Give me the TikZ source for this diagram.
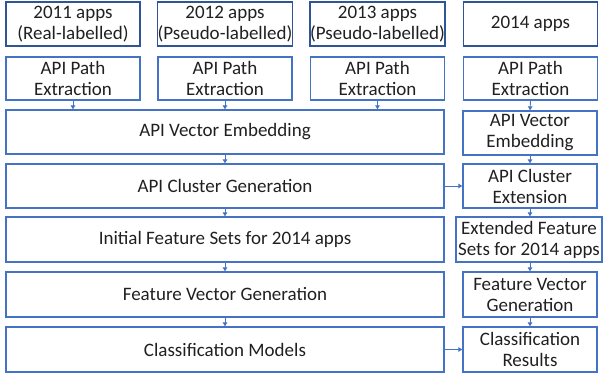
\documentclass[tikz,border=0pt]{standalone}
\usepackage{fontspec}
\setmainfont{Carlito}
\usetikzlibrary{arrows.meta}
\definecolor{boxblue}{HTML}{4472C4}
\definecolor{topblue}{HTML}{2F5597}
\definecolor{txtgray}{HTML}{202020}
\begin{document}
\begin{tikzpicture}[x=1pt,y=-1pt,font=\fontsize{19}{21}\selectfont,
	stage/.style={draw=boxblue,line width=1.3pt,text=txtgray,align=center,inner sep=0pt,minimum height=44pt},
	appbox/.style={stage,draw=topblue},
	narrow/.style={minimum width=134pt},
	wide/.style={minimum width=438pt},
	flow/.style={draw=boxblue,line width=0.9pt,-{Triangle[length=4pt,width=4.5pt]}}]
	\useasboundingbox (0,0) rectangle (603,377);
	% app sets
	\node[appbox,narrow] (apps11) at (73,24) {2011 apps\\(Real-labelled)};
	\node[appbox,narrow] (apps12) at (225,24) {2012 apps\\(Pseudo-labelled)};
	\node[appbox,narrow] (apps13) at (377.5,24) {2013 apps\\(Pseudo-labelled)};
	\node[appbox,narrow] (apps14) at (530.5,24) {2014 apps};
	% path extraction
	\node[stage,narrow,minimum height=43pt] (path11) at (73,78.5) {API Path\\Extraction};
	\node[stage,narrow,minimum height=43pt] (path12) at (225,78.5) {API Path\\Extraction};
	\node[stage,narrow,minimum height=43pt] (path13) at (377.5,78.5) {API Path\\Extraction};
	\node[stage,narrow,minimum height=43pt] (path14) at (530.5,78.5) {API Path\\Extraction};
	% training side
	\node[stage,wide] (embed) at (225,132) {API Vector Embedding};
	\node[stage,wide] (cluster) at (225,186) {API Cluster Generation};
	\node[stage,wide,minimum height=45pt] (initfeat) at (225,239.5) {Initial Feature Sets for 2014 apps};
	\node[stage,wide,minimum height=45pt] (featvec) at (225,294.5) {Feature Vector Generation};
	\node[stage,wide,minimum height=45pt] (models) at (225,349.5) {Classification Models};
	% 2014 side
	\node[stage,narrow] (embed14) at (530,133) {API Vector\\Embedding};
	\node[stage,narrow] (clusterext) at (530,186) {API Cluster\\Extension};
	\node[stage,minimum width=146pt,minimum height=45pt] (extfeat) at (529,239.5) {Extended Feature\\Sets for 2014 apps};
	\node[stage,narrow,minimum height=45pt] (featvec14) at (530,294.5) {Feature Vector\\Generation};
	\node[stage,narrow,minimum height=45pt] (results) at (530,349.5) {Classification\\Results};
	% arrows
	\draw[flow] (path11.south) -- (path11.south |- embed.north);
	\draw[flow] (path12.south) -- (path12.south |- embed.north);
	\draw[flow] (path13.south) -- (path13.south |- embed.north);
	\draw[flow] (path14.south) -- (embed14.north);
	\draw[flow] (embed) -- (cluster);
	\draw[flow] (cluster) -- (initfeat);
	\draw[flow] (initfeat) -- (featvec);
	\draw[flow] (featvec) -- (models);
	\draw[flow] (embed14) -- (clusterext);
	\draw[flow] (clusterext.south) -- (clusterext.south |- extfeat.north);
	\draw[flow] (extfeat.south -| featvec14.north) -- (featvec14.north);
	\draw[flow] (featvec14) -- (results);
	\draw[flow] (cluster) -- (clusterext);
	\draw[flow] (models) -- (results);
\end{tikzpicture}
\end{document}
